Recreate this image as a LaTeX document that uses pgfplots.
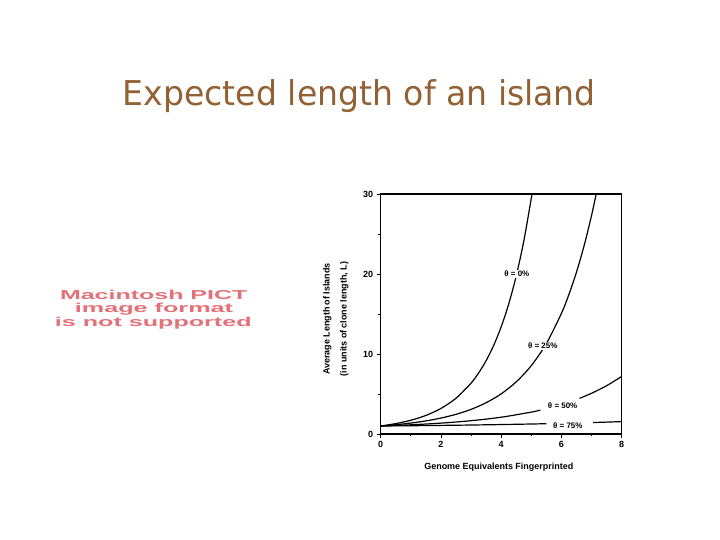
\documentclass[border=0pt]{standalone}
\usepackage{fontspec}
\setmainfont{Liberation Sans}
\newfontfamily\titlefont{DejaVu Sans}
\usepackage{pgfplots}
\pgfplotsset{compat=1.18}
\definecolor{titlebrown}{RGB}{146,98,52}
\definecolor{pictpink}{RGB}{228,112,120}

\begin{document}
\begin{tikzpicture}[x=1bp,y=1bp]
\useasboundingbox (0,0) rectangle (720,540);
\fill[white] (0,0) rectangle (720,540);

% slide title
\node[anchor=base, inner sep=0, text=titlebrown] at (359.4,434.3)
  {\resizebox{473bp}{\height}{\titlefont\fontsize{34.3}{36}\selectfont Expected length of an island}};

% placeholder text of the missing picture
\begin{scope}[every node/.style={anchor=base, inner sep=0, text=pictpink, font=\bfseries\fontsize{13}{14}\selectfont}]
\node at (153.7,240.5) {\resizebox{187.3bp}{\height}{Macintosh PICT}};
\node at (154.0,227.0) {\resizebox{158.3bp}{\height}{image format}};
\node at (153.3,213.5) {\resizebox{196.7bp}{\height}{is not supported}};
\end{scope}

\begin{axis}[
  at={(380.7bp,106bp)}, anchor=south west,
  scale only axis, width=241bp, height=240bp,
  xmin=0, xmax=8, ymin=0, ymax=30,
  xtick={0,2,4,6,8}, minor xtick={1,3,5,7},
  ytick={0,10,20,30}, minor ytick={5,15,25},
  xtick pos=bottom, ytick pos=left,
  tick align=outside,
  major tick length=4bp, minor tick length=2.5bp,
  every tick/.style={black, line width=0.9bp},
  axis line style={line width=1.3bp},
  /pgf/number format/assume math mode=true,
  ticklabel style={font=\bfseries\fontsize{9}{10}\selectfont},
  xlabel={Genome Equivalents Fingerprinted},
  xlabel style={font=\bfseries\fontsize{9}{11}\selectfont, at={(axis description cs:0.49,-0.139)}, anchor=center},
  ylabel={Average Length of Islands\\(in units of clone length, L)},
  ylabel style={font=\bfseries\fontsize{9}{17}\selectfont, align=center, at={(axis description cs:-0.186,0.479)}, anchor=center},
]
% theta = 0%
\addplot[black, line width=1.2bp, smooth] coordinates {
  (0,1) (0.5,1.297) (1,1.718) (1.5,2.321) (2,3.195) (2.5,4.473) (3,6.362)
  (3.25,7.628) (3.5,9.176) (3.75,11.072) (4,13.400) (4.25,16.260)
  (4.5,19.782) (4.75,24.122) (5,29.483) (5.021,30)
};
% theta = 25%
\addplot[black, line width=1.2bp, smooth] coordinates {
  (0,1) (0.5,1.160) (1,1.367) (1.5,1.637) (2,1.991) (2.5,2.458) (3,3.079)
  (3.5,3.908) (4,5.021) (4.5,6.522) (5,8.554) (5.5,11.317) (6,15.086)
  (6.25,17.464) (6.5,20.244) (6.75,23.508) (7,27.331) (7.153,30)
};
% theta = 50%
\addplot[black, line width=1.2bp, smooth] coordinates {
  (0,1) (1,1.149) (2,1.359) (3,1.661) (4,2.097) (5,2.736) (5.3,2.982)
};
\addplot[black, line width=1.2bp, smooth] coordinates {
  (6.6,4.457) (7,5.088) (7.5,6.036) (8,7.200)
};
% theta = 75%
\addplot[black, line width=1.2bp, smooth] coordinates {
  (0,1) (1,1.034) (2,1.074) (3,1.122) (4,1.180) (5,1.248) (5.5,1.287)
};
\addplot[black, line width=1.2bp, smooth] coordinates {
  (7.05,1.435) (7.5,1.486) (8,1.549)
};

\begin{scope}[every node/.style={font=\bfseries\fontsize{8}{9}\selectfont, inner sep=1bp}]
\node[fill=white] at (axis cs:4.52,20.0) {θ = 0\%};
\node[fill=white] at (axis cs:5.38,11.0) {θ = 25\%};
\node at (axis cs:6.04,3.6) {θ = 50\%};
\node at (axis cs:6.21,1.0) {θ = 75\%};
\end{scope}
\end{axis}
\end{tikzpicture}
\end{document}
